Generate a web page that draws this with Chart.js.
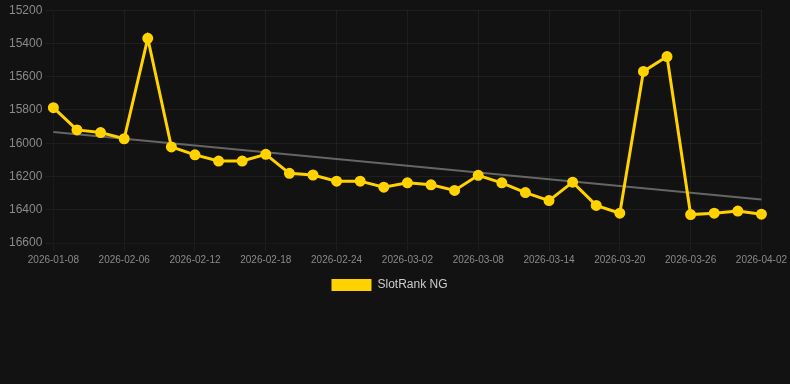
<!DOCTYPE html>
<html>
<head>
<meta charset="utf-8">
<script src="https://cdn.jsdelivr.net/npm/chart.js@4/dist/chart.umd.min.js"></script>
<style>
  html, body { margin: 0; padding: 0; background: #121212; }
  .wrap { width: 790px; height: 301px; position: relative; }
</style>
</head>
<body>
<div class="wrap"><canvas id="chart"></canvas></div>
<script>
// dates of each rank sample
const dates = [
  "2026-01-08", "2026-01-20", "2026-02-02", "2026-02-06", "2026-02-08", "2026-02-10",
  "2026-02-12", "2026-02-14", "2026-02-16", "2026-02-18", "2026-02-20", "2026-02-22",
  "2026-02-24", "2026-02-26", "2026-02-28", "2026-03-02", "2026-03-04", "2026-03-06",
  "2026-03-08", "2026-03-10", "2026-03-12", "2026-03-14", "2026-03-16", "2026-03-18",
  "2026-03-20", "2026-03-22", "2026-03-24", "2026-03-26", "2026-03-28", "2026-03-31",
  "2026-04-02"
];
// rank values
const rank = [
  15786, 15920, 15936, 15973, 15369, 16022, 16070, 16107, 16107, 16067, 16181,
  16191, 16228, 16228, 16264, 16238, 16250, 16284, 16193, 16238, 16297, 16345,
  16234, 16374, 16421, 15568, 15479, 16429, 16421, 16408, 16427
];
// trend line end points (the rest left empty, line spans the gap)
const trend = dates.map(() => null);
trend[0] = 15932;
trend[dates.length - 1] = 16339;

const yTicks = { min: 15200, max: 16600, step: 200 };

const gold = "#ffd200";
const fontFamily = "'Liberation Sans', Arial, sans-serif";

new Chart(document.getElementById("chart"), {
    type: "line",
    data: {
        labels: dates,
        datasets: [
            {
                label: "SlotRank NG",
                data: rank,
                borderColor: gold,
                backgroundColor: gold,
                pointBackgroundColor: gold,
                pointBorderColor: gold,
                borderWidth: 3,
                pointRadius: 4,
                tension: 0
            },
            {
                label: "trend",
                data: trend,
                borderColor: "rgba(170,170,170,0.55)",
                borderWidth: 2,
                pointRadius: 0,
                spanGaps: true,
                tension: 0
            }
        ]
    },
    options: {
        responsive: true,
        maintainAspectRatio: false,
        animation: false,
        layout: { padding: { left: 6, right: 17 } },
        plugins: {
            legend: {
                position: "bottom",
                labels: {
                    color: "#cccccc",
                    font: { family: fontFamily, size: 12 },
                    generateLabels: (chart) => {
                        const items = Chart.defaults.plugins.legend.labels.generateLabels(chart);
                        return items
                            .filter((item) => item.text !== "trend")
                            .map((item) => Object.assign(item, { lineWidth: 0 }));
                    }
                }
            },
            tooltip: { enabled: false }
        },
        scales: {
            x: {
                grid: { color: "rgba(255,255,255,0.05)" },
                ticks: {
                    color: "#8a8a8a",
                    font: { family: fontFamily, size: 10 },
                    maxRotation: 0,
                    autoSkip: true,
                    maxTicksLimit: 11
                }
            },
            y: {
                reverse: true,
                min: yTicks.min,
                max: yTicks.max,
                grid: { color: "rgba(255,255,255,0.05)" },
                ticks: {
                    stepSize: yTicks.step,
                    color: "#8a8a8a",
                    font: { family: fontFamily, size: 12 },
                    callback: (v) => String(v)
                }
            }
        }
    }
});
</script>
</body>
</html>
